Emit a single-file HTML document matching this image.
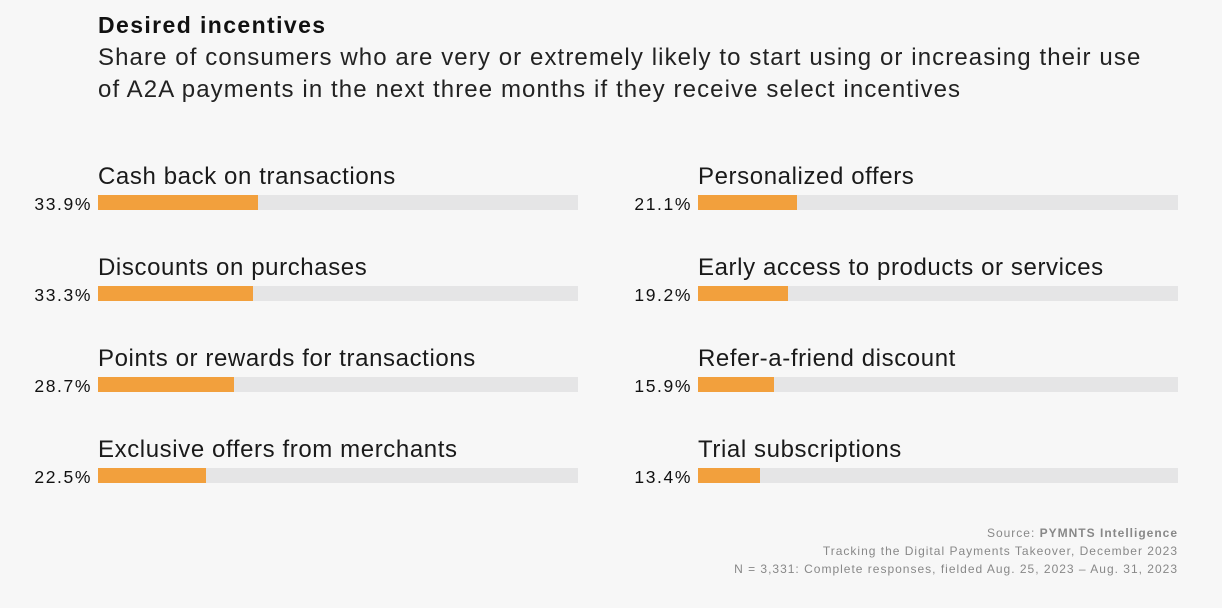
<!DOCTYPE html>
<html><head><meta charset="utf-8"><style>
body{margin:0;width:1222px;height:608px;background:#f7f7f7;font-family:"Liberation Sans",sans-serif;position:relative;overflow:hidden;color:#111}
.a{position:absolute;white-space:nowrap}
.t{left:98px;top:12px;font-size:23px;font-weight:bold;letter-spacing:1.4px}
.s{left:98px;font-size:24px;color:#222;letter-spacing:1.1px}
.l{font-size:24px;color:#1a1a1a;letter-spacing:0.6px}
.p{font-size:17.5px;text-align:right;width:82px;letter-spacing:1.6px;right:auto}
.tr{position:absolute;height:15px;width:480px;background:#e5e5e6}
.f{height:100%;background:#f2a03d}
.n{right:44px;font-size:12px;color:#888;text-align:right;letter-spacing:1px}
</style></head><body>
<div class="a t">Desired incentives</div>
<div class="a s" style="top:44px">Share of consumers who are very or extremely likely to start using or increasing their use</div>
<div class="a s" style="top:76px">of A2A payments in the next three months if they receive select incentives</div>

<div class="a l" style="left:98px;top:163px">Cash back on transactions</div>
<div class="a p" style="left:10px;top:194px">33.9%</div>
<div class="tr" style="left:98px;top:195px"><div class="f" style="width:160px"></div></div>

<div class="a l" style="left:98px;top:254px">Discounts on purchases</div>
<div class="a p" style="left:10px;top:285px">33.3%</div>
<div class="tr" style="left:98px;top:286px"><div class="f" style="width:155px"></div></div>

<div class="a l" style="left:98px;top:345px">Points or rewards for transactions</div>
<div class="a p" style="left:10px;top:376px">28.7%</div>
<div class="tr" style="left:98px;top:377px"><div class="f" style="width:136px"></div></div>

<div class="a l" style="left:98px;top:436px">Exclusive offers from merchants</div>
<div class="a p" style="left:10px;top:467px">22.5%</div>
<div class="tr" style="left:98px;top:468px"><div class="f" style="width:108px"></div></div>

<div class="a l" style="left:698px;top:163px">Personalized offers</div>
<div class="a p" style="left:610px;top:194px">21.1%</div>
<div class="tr" style="left:698px;top:195px"><div class="f" style="width:99px"></div></div>

<div class="a l" style="left:698px;top:254px">Early access to products or services</div>
<div class="a p" style="left:610px;top:285px">19.2%</div>
<div class="tr" style="left:698px;top:286px"><div class="f" style="width:90px"></div></div>

<div class="a l" style="left:698px;top:345px">Refer-a-friend discount</div>
<div class="a p" style="left:610px;top:376px">15.9%</div>
<div class="tr" style="left:698px;top:377px"><div class="f" style="width:76px"></div></div>

<div class="a l" style="left:698px;top:436px">Trial subscriptions</div>
<div class="a p" style="left:610px;top:467px">13.4%</div>
<div class="tr" style="left:698px;top:468px"><div class="f" style="width:62px"></div></div>

<div class="a n" style="top:526px">Source: <b>PYMNTS Intelligence</b></div>
<div class="a n" style="top:544px">Tracking the Digital Payments Takeover, December 2023</div>
<div class="a n" style="top:562px">N = 3,331: Complete responses, fielded Aug. 25, 2023 – Aug. 31, 2023</div>
</body></html>
